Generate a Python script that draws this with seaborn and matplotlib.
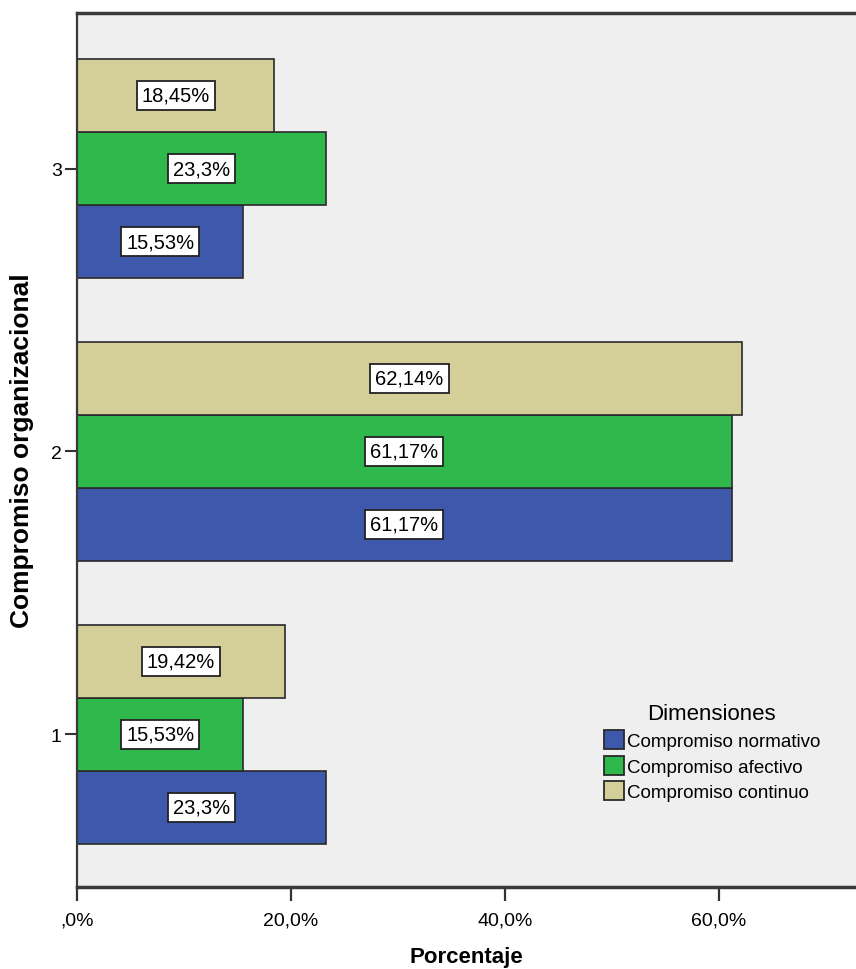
import matplotlib
matplotlib.use("Agg")
import matplotlib.pyplot as plt
from matplotlib.patches import Patch
import seaborn as sns
import pandas as pd

# Categories (bottom to top) and percentages per dimension
niveles = ["1", "2", "3"]
normativo = [23.3, 61.17, 15.53]
afectivo = [15.53, 61.17, 23.3]
continuo = [19.42, 62.14, 18.45]
dimensiones = ["Compromiso normativo", "Compromiso afectivo", "Compromiso continuo"]
colores = ["#3E58AC", "#2FB84B", "#D4CE99"]
xticks = [0, 20, 40, 60]
xticklabels = [",0%", "20,0%", "40,0%", "60,0%"]

df = pd.DataFrame({
    "nivel": niveles * 3,
    "dimension": [dimensiones[0]] * 3 + [dimensiones[1]] * 3 + [dimensiones[2]] * 3,
    "pct": normativo + afectivo + continuo,
})

sns.set_theme(style="white")
plt.rcParams["font.family"] = ["Liberation Sans", "DejaVu Sans"]
plt.rcParams["text.color"] = "black"
plt.rcParams["axes.labelcolor"] = "black"
plt.rcParams["xtick.color"] = "black"
plt.rcParams["ytick.color"] = "black"

fig = plt.figure(figsize=(8.56, 9.70), dpi=100)
ax = fig.add_axes([77 / 856, 1 - 888 / 970, 1 - 77 / 856, (888 - 14) / 970])
ax.set_facecolor("#EFEFEF")

sns.barplot(data=df, x="pct", y="nivel", hue="dimension", order=niveles,
            hue_order=dimensiones, palette=colores, orient="h", width=0.775,
            edgecolor="#2a2a2a", linewidth=1.2, saturation=1, ax=ax, legend=False)

# first category at the bottom
if ax.yaxis_inverted():
    ax.invert_yaxis()
ax.set_ylim(-0.54, 2.55)
ax.set_xlim(0, 72.8)

for cont in ax.containers:
    labels = [f"{v:g}".replace(".", ",") + "%" for v in cont.datavalues]
    ax.bar_label(cont, labels=labels, label_type="center", fontsize=14.5, color="black",
                 bbox=dict(boxstyle="square,pad=0.25", facecolor="white",
                           edgecolor="#222222", linewidth=1.3))

ax.set_xticks(xticks)
ax.set_xticklabels(xticklabels)
ax.set_yticks(range(len(niveles)))
ax.set_yticklabels(niveles)
ax.tick_params(axis="x", bottom=True, direction="out", length=10, width=1.6,
               color="#333333", labelcolor="black", labelsize=14, pad=8)
ax.tick_params(axis="y", left=True, direction="out", length=9, width=1.5,
               color="#333333", labelcolor="black", labelsize=14, pad=2)

for side in ["left", "bottom", "top"]:
    ax.spines[side].set_visible(True)
    ax.spines[side].set_color("#3a3a3a")
ax.spines["left"].set_linewidth(1.6)
ax.spines["bottom"].set_linewidth(2.5)
ax.spines["top"].set_linewidth(2.5)
ax.spines["right"].set_visible(False)

ax.set_xlabel("Porcentaje", fontsize=16, fontweight="bold", labelpad=12)
ax.set_ylabel("Compromiso organizacional", fontsize=19, fontweight="bold", labelpad=12)

handles = [Patch(facecolor=c, edgecolor="#2a2a2a", linewidth=1.3) for c in colores]
leg = ax.legend(handles, dimensiones, title="Dimensiones", loc="upper left",
                bbox_to_anchor=((596 - 77) / 779, 1 - (697 - 14) / 874),
                frameon=False, fontsize=13.5, title_fontsize=16,
                handlelength=1.1, handleheight=1.2, handletextpad=0.15,
                labelspacing=0.3, borderaxespad=0)
leg._legend_box.align = "center"

fig.savefig("out.png", dpi=100, facecolor="white")
